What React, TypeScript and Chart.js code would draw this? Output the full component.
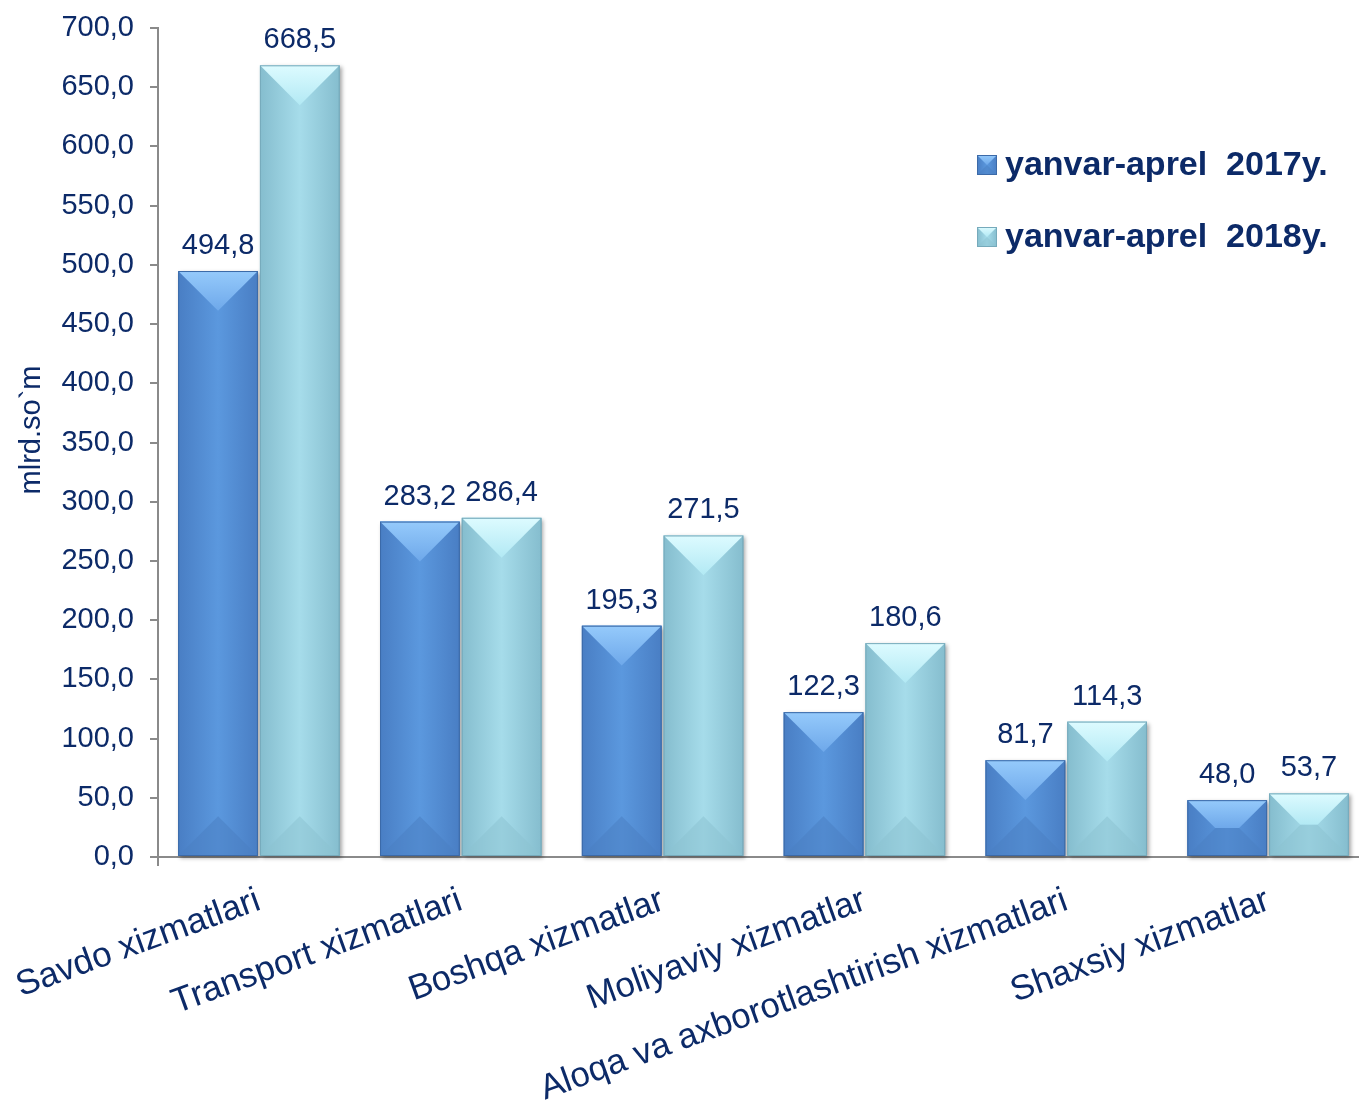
import React, { useEffect, useRef } from 'react';
import { Chart, registerables } from 'chart.js';

Chart.register(...registerables);

// ---- data ----
const categories = [
  'Savdo xizmatlari',
  'Transport xizmatlari',
  'Boshqa xizmatlar',
  'Moliyaviy xizmatlar',
  'Aloqa va axborotlashtirish xizmatlari',
  'Shaxsiy xizmatlar',
];
const series2017 = [494.8, 283.2, 195.3, 122.3, 81.7, 48.0];
const series2018 = [668.5, 286.4, 271.5, 180.6, 114.3, 53.7];
const seriesLabels = ['yanvar-aprel  2017y.', 'yanvar-aprel  2018y.'];
const yTitle = 'mlrd.so`m';
const yMin = 0;
const yMax = 700;
const yStep = 50;

// ---- styles ----
const NAVY = '#0c2a68';
const AXIS = '#8a8a8a';
const FONT = "'Liberation Sans', Arial, Helvetica, sans-serif";

type Pal = { edge: string; mid: string; topA: string; topB: string; bottom: string; stroke: string; solid: string };
const palettes: Pal[] = [
  { edge: '#497ec4', mid: '#5b98de', topA: '#95cafb', topB: '#6ea8ea', bottom: '#4a7fc2', stroke: '#3c6aa8', solid: '#5591d8' },
  { edge: '#85bdce', mid: '#a6dcea', topA: '#ddfbff', topB: '#b2e9f4', bottom: '#8cc2d1', stroke: '#76aabb', solid: '#9ed6e6' },
];

const fmt = (v: number) => v.toFixed(1).replace('.', ',');

function drawBevel(ctx: CanvasRenderingContext2D, L: number, T: number, R: number, B: number, p: Pal, shadow: boolean) {
  const w = R - L;
  const h = B - T;
  if (w <= 0 || h <= 0) return;
  const d = Math.min(w / 2, h / 2);
  ctx.save();
  if (shadow) {
    ctx.shadowColor = 'rgba(0,0,0,0.35)';
    ctx.shadowBlur = 4;
    ctx.shadowOffsetX = 2;
    ctx.shadowOffsetY = 2;
  }
  const g = ctx.createLinearGradient(L, 0, R, 0);
  g.addColorStop(0, p.edge);
  g.addColorStop(0.5, p.mid);
  g.addColorStop(1, p.edge);
  ctx.fillStyle = g;
  ctx.fillRect(L, T, w, h);
  ctx.restore();

  ctx.save();
  const gt = ctx.createLinearGradient(0, T, 0, T + d);
  gt.addColorStop(0, p.topA);
  gt.addColorStop(1, p.topB);
  ctx.beginPath();
  ctx.moveTo(L, T);
  ctx.lineTo(R, T);
  ctx.lineTo(R - d, T + d);
  ctx.lineTo(L + d, T + d);
  ctx.closePath();
  ctx.fillStyle = gt;
  ctx.fill();

  ctx.beginPath();
  ctx.moveTo(L, B);
  ctx.lineTo(R, B);
  ctx.lineTo(R - d, B - d);
  ctx.lineTo(L + d, B - d);
  ctx.closePath();
  ctx.globalAlpha = 0.55;
  ctx.fillStyle = p.bottom;
  ctx.fill();
  ctx.globalAlpha = 1;

  ctx.strokeStyle = p.stroke;
  ctx.lineWidth = 1;
  ctx.strokeRect(L + 0.5, T + 0.5, w - 1, h - 1);
  ctx.restore();
}

const decorPlugin = {
  id: 'decor',
  afterDatasetsDraw(chart: any) {
    const ctx: CanvasRenderingContext2D = chart.ctx;
    const area = chart.chartArea;
    chart.data.datasets.forEach((ds: any, i: number) => {
      const meta = chart.getDatasetMeta(i);
      meta.data.forEach((bar: any) => {
        const { x, y, base, width } = bar.getProps(['x', 'y', 'base', 'width'], true);
        drawBevel(ctx, x - width / 2, y, x + width / 2, base, palettes[i], true);
      });
    });
    ctx.save();
    ctx.font = `29px ${FONT}`;
    ctx.fillStyle = NAVY;
    ctx.textAlign = 'center';
    ctx.textBaseline = 'alphabetic';
    chart.data.datasets.forEach((ds: any, i: number) => {
      const meta = chart.getDatasetMeta(i);
      meta.data.forEach((bar: any, j: number) => {
        const { x, y } = bar.getProps(['x', 'y'], true);
        ctx.fillText(fmt(ds.data[j]), x, y - 17);
      });
    });
    ctx.restore();

    // y axis stub below origin
    ctx.save();
    ctx.strokeStyle = AXIS;
    ctx.lineWidth = 2;
    ctx.beginPath();
    ctx.moveTo(area.left, area.bottom);
    ctx.lineTo(area.left, area.bottom + 9);
    ctx.stroke();
    ctx.restore();

    // y axis title
    ctx.save();
    ctx.font = `29px ${FONT}`;
    ctx.fillStyle = NAVY;
    ctx.textAlign = 'center';
    ctx.textBaseline = 'middle';
    ctx.translate(32, 430);
    ctx.rotate(-Math.PI / 2);
    ctx.fillText(yTitle, 0, 0);
    ctx.restore();

    // legend
    ctx.save();
    const mx = area.left + 819;
    const rows = [area.top + 137, area.top + 209];
    ctx.font = `bold 34px ${FONT}`;
    ctx.textAlign = 'left';
    ctx.textBaseline = 'middle';
    chart.data.datasets.forEach((ds: any, i: number) => {
      const cy = rows[i];
      drawBevel(ctx, mx, cy - 10, mx + 20, cy + 10, palettes[i], false);
      ctx.fillStyle = NAVY;
      ctx.fillText(ds.label, mx + 28, cy + 1);
    });
    ctx.restore();
  },
};

export default function App() {
  const ref = useRef<HTMLCanvasElement | null>(null);
  useEffect(() => {
    document.body.style.margin = '0';
    const canvas = ref.current;
    if (!canvas) return;
    const chart = new Chart(canvas, {
      type: 'bar',
      data: {
        labels: categories,
        datasets: [
          { label: seriesLabels[0], data: series2017, backgroundColor: palettes[0].solid, borderWidth: 0 },
          { label: seriesLabels[1], data: series2018, backgroundColor: palettes[1].solid, borderWidth: 0 },
        ],
      },
      options: {
        animation: false,
        responsive: true,
        maintainAspectRatio: false,
        layout: { padding: { top: 28, right: 1, left: 0, bottom: 0 } },
        datasets: { bar: { categoryPercentage: 0.81, barPercentage: 0.975 } },
        plugins: { legend: { display: false }, tooltip: { enabled: false } },
        scales: {
          x: {
            grid: { display: false },
            border: { display: true, color: AXIS, width: 2 },
            ticks: {
              color: NAVY,
              font: { family: FONT, size: 35 },
              minRotation: 20,
              maxRotation: 20,
              autoSkip: false,
              padding: 15,
            },
            afterFit: (s: any) => {
              s.height = 247;
              s.paddingLeft = 0;
              s.paddingRight = 0;
            },
          },
          y: {
            min: yMin,
            max: yMax,
            grid: { drawOnChartArea: false, drawTicks: true, tickLength: 8, color: AXIS, lineWidth: 2 },
            border: { display: true, color: AXIS, width: 2 },
            ticks: {
              stepSize: yStep,
              color: NAVY,
              font: { family: FONT, size: 29 },
              padding: 16,
              callback: (v: any) => fmt(Number(v)),
            },
            afterFit: (s: any) => {
              s.width = 158;
              s.paddingTop = 0;
              s.paddingBottom = 0;
            },
          },
        },
      },
      plugins: [decorPlugin],
    });
    return () => chart.destroy();
  }, []);
  return (
    <div style={{ position: 'relative', width: '1359px', height: '1104px', overflow: 'hidden' }}>
      <div style={{ position: 'relative', width: '1370px', height: '1104px' }}>
        <canvas ref={ref} />
      </div>
    </div>
  );
}
